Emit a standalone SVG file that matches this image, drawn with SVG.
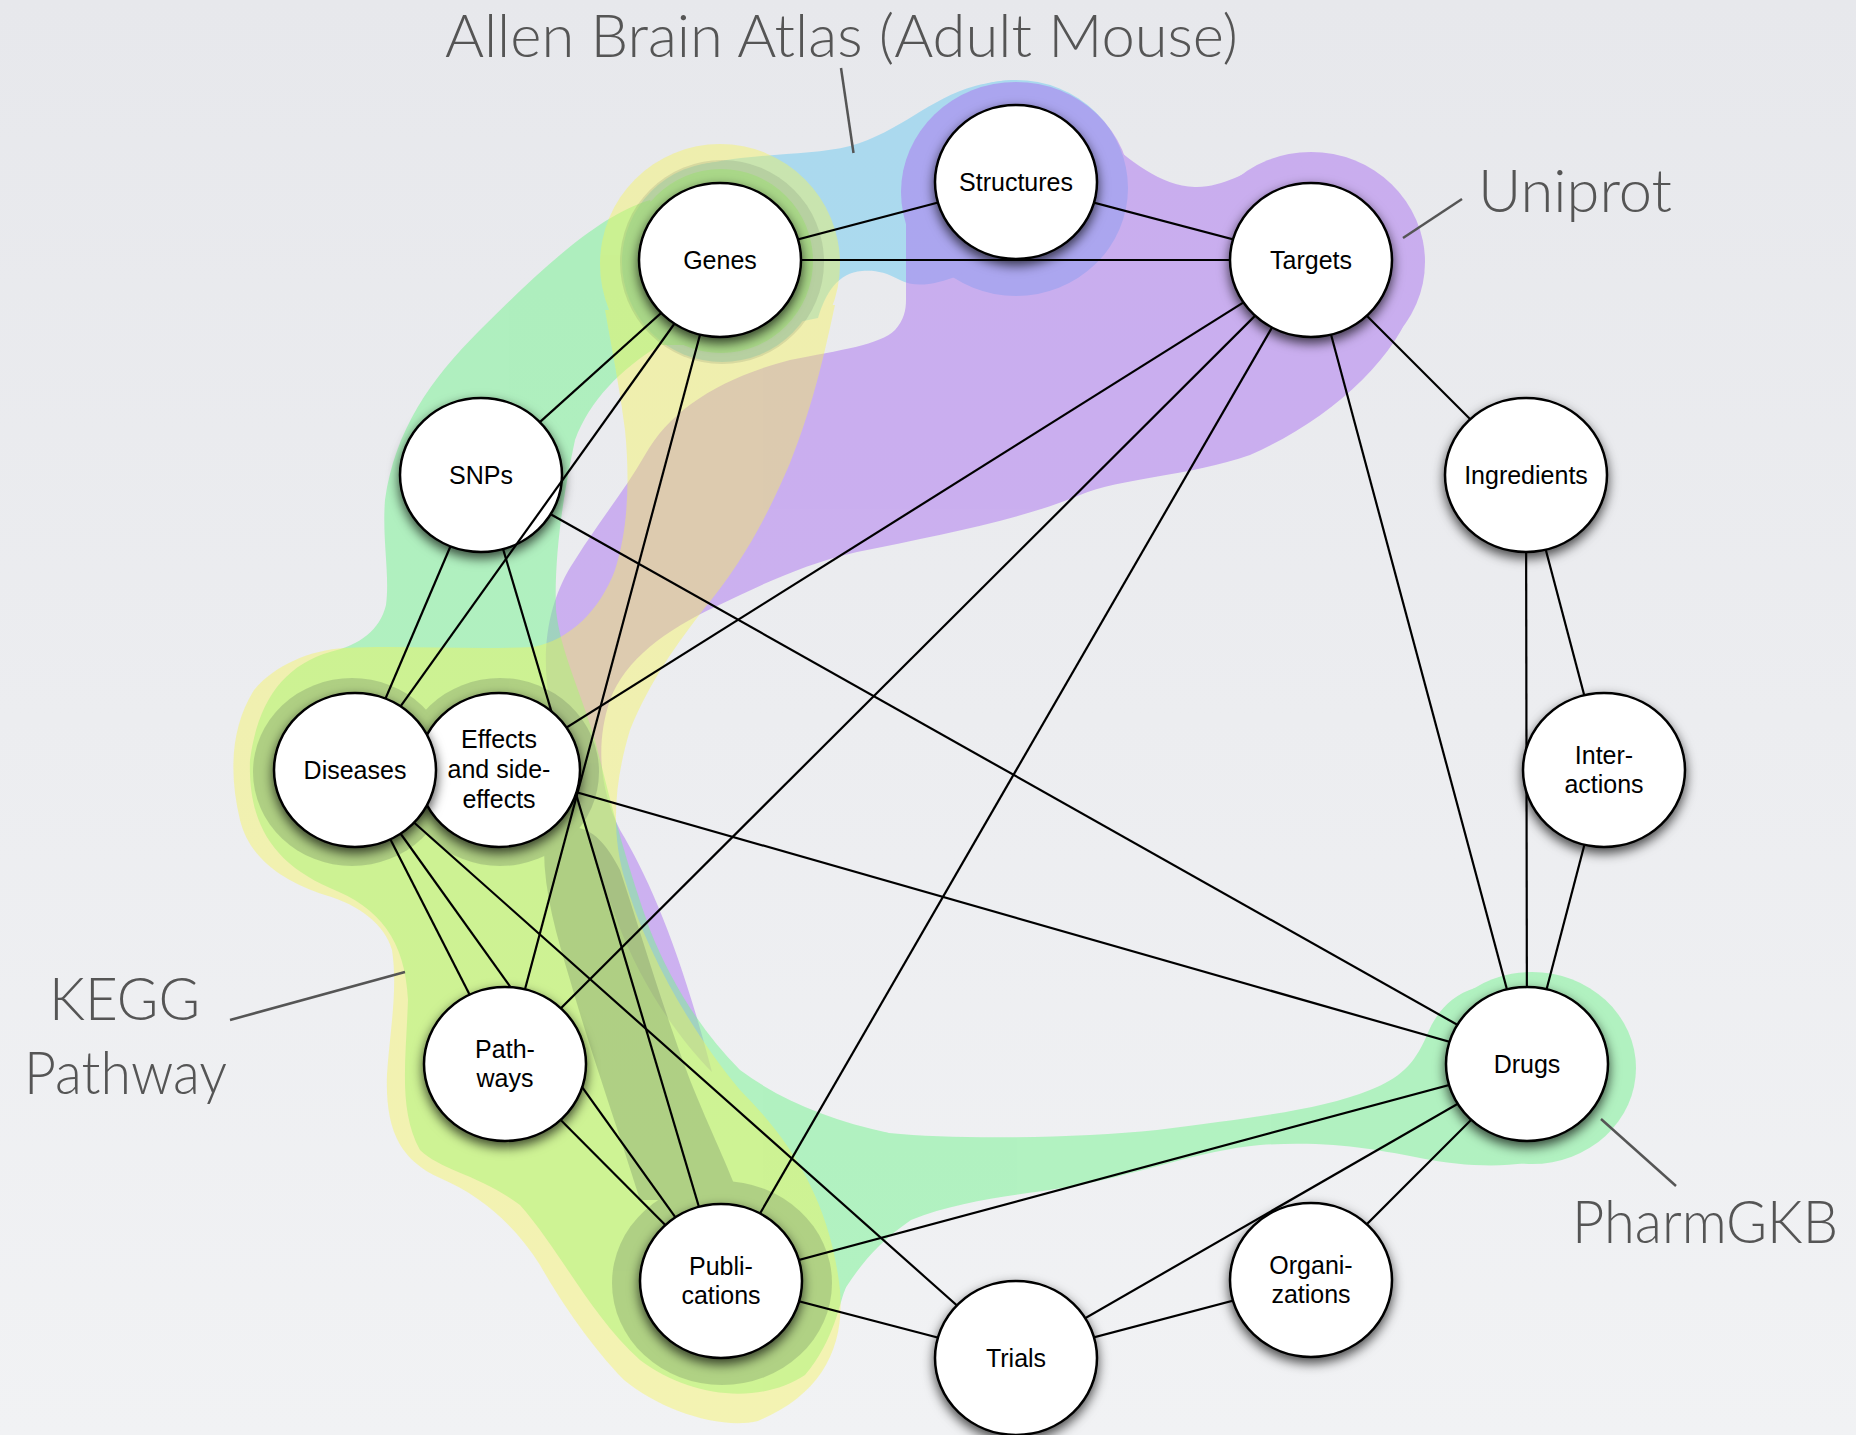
<svg xmlns="http://www.w3.org/2000/svg" width="1856" height="1435" viewBox="0 0 1856 1435">
<defs>
<linearGradient id="bg" x1="0" y1="0" x2="0" y2="1">
<stop offset="0" stop-color="#e7e8ec"/>
<stop offset="1" stop-color="#f1f2f4"/>
</linearGradient>
<filter id="sh" x="-30%" y="-30%" width="160%" height="170%">
<feDropShadow dx="0" dy="5" stdDeviation="6" flood-color="#000" flood-opacity="0.7"/>
</filter>
<style>
.node ellipse{fill:#fff;stroke:#000;stroke-width:2.5;filter:url(#sh)}
.node text{font-family:"Liberation Sans",Arial,sans-serif;font-size:25px;text-anchor:middle;fill:#000}
.edges line{stroke:#000;stroke-width:2.2}
.big{font-family:Lato,"Open Sans",sans-serif;font-weight:300;font-size:60px;fill:#555}
.lead{stroke:#555;stroke-width:2.5}
</style>
</defs>
<rect width="1856" height="1435" fill="url(#bg)"/>

<g id="blobs">
<g id="allen-blob" opacity="0.5" fill="#6fcbf0">
<ellipse cx="1016" cy="188" rx="112" ry="108"/>
<circle cx="722" cy="262" r="100"/>
<path d="M 700,165 C 760,152 810,156 850,146 C 900,132 930,98 975,86 C 990,82 1005,80 1016,80 L 1016,200 L 960,275 C 935,285 915,288 900,280 C 885,272 875,270 862,271 C 838,273 826,292 818,318 L 760,330 L 700,220 Z"/>
</g>
<g id="uniprot-blob" opacity="0.5" fill="#ab73f0">
<ellipse cx="1016" cy="192" rx="115" ry="110"/>
<ellipse cx="1311" cy="262" rx="114" ry="110"/>
<path d="M 1100,135 C 1130,160 1160,186 1195,187 C 1232,188 1260,160 1300,153 L 1320,300 L 1050,300 Z"/>
<path d="M 906,300 L 906,200 L 1300,200 L 1415,300 C 1395,360 1330,420 1250,455 C 1190,476 1120,478 1080,495 C 1020,520 940,535 857,552 C 800,565 755,588 717,606 C 665,630 625,660 610,700 C 595,745 600,790 620,830 C 650,880 680,950 712,1072 C 680,1040 640,985 615,915 C 590,845 565,775 550,705 C 540,650 548,600 575,560 C 600,520 625,490 645,455 C 670,410 720,378 790,360 C 840,350 880,345 895,330 C 904,320 906,310 906,300 Z"/>
</g>
<g id="pharmgkb-blob" opacity="0.5" fill="#75f390">
<ellipse cx="1532" cy="1068" rx="104" ry="96"/>
<path d="M 1475,988 C 1452,995 1436,1012 1427,1035 C 1414,1065 1400,1078 1370,1090 C 1320,1110 1250,1118 1157,1130 C 1080,1138 960,1140 889,1133 C 840,1128 800,1110 770,1090 L 820,1330 C 845,1290 860,1255 911,1220 C 960,1200 1020,1195 1068,1187 C 1130,1177 1200,1150 1260,1145 C 1330,1140 1380,1150 1420,1158 C 1460,1166 1500,1168 1532,1162 L 1532,1060 Z"/>
<circle cx="721" cy="261" r="92"/>
<path d="M 650,200 C 600,215 545,265 480,330 C 430,380 395,430 385,500 C 382,540 390,575 386,605 C 380,630 360,645 330,652 C 285,665 258,700 250,760 C 248,820 270,862 330,888 C 380,908 405,940 408,1000 C 406,1060 398,1110 420,1150 C 440,1170 480,1175 520,1205 C 560,1250 590,1315 640,1360 C 690,1398 760,1405 805,1375 C 835,1340 840,1300 845,1290 L 889,1133 C 830,1120 780,1100 740,1070 C 700,1030 670,980 650,930 C 625,860 610,800 595,740 C 580,690 560,650 556,610 C 554,560 562,500 575,440 C 590,400 620,370 660,345 L 700,345 Z"/>
</g>
<g id="kegg-blob" opacity="0.4" fill="#f8f550">
<circle cx="720" cy="264" r="120"/>
<path d="M 835,305 C 825,350 815,400 790,463 C 770,510 745,560 703,610 C 680,640 650,680 630,730 C 615,780 610,830 625,880 C 645,950 690,1030 740,1090 C 790,1140 830,1200 840,1290 C 845,1350 820,1395 758,1421 C 720,1430 660,1410 624,1380 C 590,1345 560,1300 540,1265 C 515,1225 480,1195 440,1178 C 400,1160 385,1130 387,1074 C 390,1030 398,990 392,950 C 385,925 360,905 325,895 C 285,882 250,860 240,820 C 228,770 232,725 254,690 C 275,665 310,650 345,648 C 400,645 470,650 533,647 C 570,640 600,610 615,570 C 628,530 630,480 625,430 C 620,390 612,350 605,310 Z"/>
</g>
<g id="genes-ring" opacity="0.13" fill="#3a4a48">
<circle cx="722" cy="262" r="102"/>
</g>
<g id="inner-blob" opacity="0.2" fill="#3a4a48">
<ellipse cx="352" cy="772" rx="99" ry="94"/>
<ellipse cx="500" cy="772" rx="99" ry="94"/>
<ellipse cx="722" cy="1283" rx="110" ry="102"/>
<path d="M 545,830 C 580,820 600,830 620,870 C 640,930 660,1000 690,1080 C 710,1130 730,1170 740,1200 L 640,1200 C 615,1120 590,1050 570,980 C 555,930 540,880 545,830 Z"/>
</g>
</g>

<g id="labels">
<text class="big" x="445" y="57" textLength="793" lengthAdjust="spacingAndGlyphs">Allen Brain Atlas (Adult Mouse)</text>
<line class="lead" x1="841" y1="68" x2="853.5" y2="153"/>
<text class="big" x="1478" y="212" textLength="194" lengthAdjust="spacingAndGlyphs">Uniprot</text>
<line class="lead" x1="1403" y1="238" x2="1462" y2="199"/>
<text class="big" x="49" y="1020" textLength="151" lengthAdjust="spacingAndGlyphs">KEGG</text>
<text class="big" x="24" y="1094" textLength="203" lengthAdjust="spacingAndGlyphs">Pathway</text>
<line class="lead" x1="230" y1="1020" x2="405" y2="972"/>
<text class="big" x="1572" y="1243" textLength="266" lengthAdjust="spacingAndGlyphs">PharmGKB</text>
<line class="lead" x1="1601" y1="1119" x2="1676" y2="1186"/>
</g>

<g id="node-snps" class="node"><ellipse cx="481" cy="475" rx="81" ry="77"/><text x="481" y="484">SNPs</text></g>

<g id="connectors" class="edges">
<line x1="720" y1="260" x2="1016" y2="182"/>
<line x1="720" y1="260" x2="1311" y2="260"/>
<line x1="1016" y1="182" x2="1311" y2="260"/>
<line x1="720" y1="260" x2="539.8" y2="422.1"/>
<line x1="720" y1="260" x2="355" y2="770"/>
<line x1="720" y1="260" x2="505" y2="1064"/>
<line x1="450.5" y1="546.3" x2="355" y2="770"/>
<line x1="503.1" y1="549.1" x2="721" y2="1281"/>
<line x1="550.7" y1="514.2" x2="1527" y2="1064"/>
<line x1="499" y1="770" x2="1311" y2="260"/>
<line x1="499" y1="770" x2="1527" y2="1064"/>
<line x1="355" y1="770" x2="505" y2="1064"/>
<line x1="355" y1="770" x2="721" y2="1281"/>
<line x1="355" y1="770" x2="1016" y2="1358"/>
<line x1="505" y1="1064" x2="1311" y2="260"/>
<line x1="505" y1="1064" x2="721" y2="1281"/>
<line x1="721" y1="1281" x2="1311" y2="260"/>
<line x1="721" y1="1281" x2="1527" y2="1064"/>
<line x1="721" y1="1281" x2="1016" y2="1358"/>
<line x1="1311" y1="260" x2="1527" y2="1064"/>
<line x1="1311" y1="260" x2="1526" y2="475"/>
<line x1="1526" y1="475" x2="1604" y2="770"/>
<line x1="1526" y1="475" x2="1527" y2="1064"/>
<line x1="1604" y1="770" x2="1527" y2="1064"/>
<line x1="1016" y1="1358" x2="1527" y2="1064"/>
<line x1="1016" y1="1358" x2="1311" y2="1280"/>
<line x1="1311" y1="1280" x2="1527" y2="1064"/>
</g>

<g id="node-structures" class="node"><ellipse cx="1016" cy="182" rx="81" ry="77"/><text x="1016" y="191">Structures</text></g>
<g id="node-genes" class="node"><ellipse cx="720" cy="260" rx="81" ry="77"/><text x="720" y="269">Genes</text></g>
<g id="node-targets" class="node"><ellipse cx="1311" cy="260" rx="81" ry="77"/><text x="1311" y="269">Targets</text></g>
<g id="node-ingredients" class="node"><ellipse cx="1526" cy="475" rx="81" ry="77"/><text x="1526" y="484">Ingredients</text></g>
<g id="node-effects" class="node"><ellipse cx="499" cy="770" rx="81" ry="77"/><text x="499" y="748">Effects</text><text x="499" y="778">and side-</text><text x="499" y="808">effects</text></g>
<g id="node-diseases" class="node"><ellipse cx="355" cy="770" rx="81" ry="77"/><text x="355" y="779">Diseases</text></g>
<g id="node-interactions" class="node"><ellipse cx="1604" cy="770" rx="81" ry="77"/><text x="1604" y="764">Inter-</text><text x="1604" y="793">actions</text></g>
<g id="node-pathways" class="node"><ellipse cx="505" cy="1064" rx="81" ry="77"/><text x="505" y="1058">Path-</text><text x="505" y="1087">ways</text></g>
<g id="node-drugs" class="node"><ellipse cx="1527" cy="1064" rx="81" ry="77"/><text x="1527" y="1073">Drugs</text></g>
<g id="node-publications" class="node"><ellipse cx="721" cy="1281" rx="81" ry="77"/><text x="721" y="1275">Publi-</text><text x="721" y="1304">cations</text></g>
<g id="node-organizations" class="node"><ellipse cx="1311" cy="1280" rx="81" ry="77"/><text x="1311" y="1274">Organi-</text><text x="1311" y="1303">zations</text></g>
<g id="node-trials" class="node"><ellipse cx="1016" cy="1358" rx="81" ry="77"/><text x="1016" y="1367">Trials</text></g>
</svg>
